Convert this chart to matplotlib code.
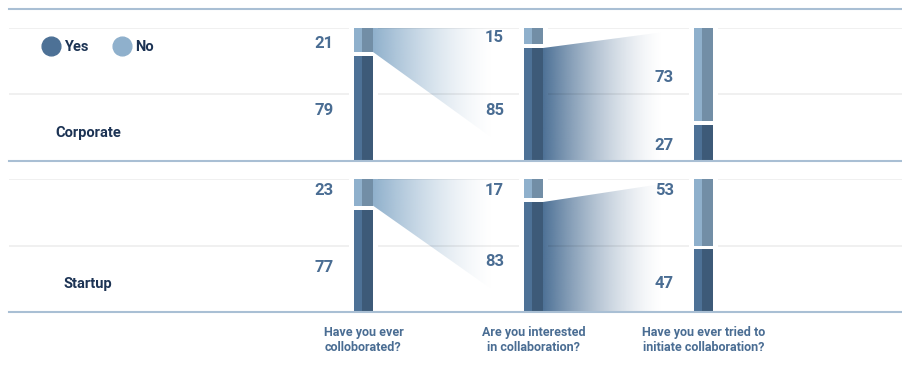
import numpy as np
import matplotlib
matplotlib.use('Agg')
import matplotlib.pyplot as plt
from matplotlib.patches import Polygon
from matplotlib.lines import Line2D

plt.rcParams['font.family'] = ['Roboto', 'DejaVu Sans']

# data
questions = ['Have you ever\ncolloborated?',
             'Are you interested\nin collaboration?',
             'Have you ever tried to\ninitiate collaboration?']
groups = ['Corporate', 'Startup']
corporate_yes = [79, 85, 27]
corporate_no = [21, 15, 73]
startup_yes = [77, 83, 47]
startup_no = [23, 17, 53]

# where the value labels sit (in % of bar height)
corporate_yes_lab = [37.6, 37.6, 12]
corporate_no_lab = [88, 92.5, 63]
startup_yes_lab = [33.8, 38.3, 21.8]
startup_no_lab = [91.7, 91.7, 91.7]

YES_L = '#4d7196'
YES_D = '#3d5a78'
NO_L = '#8fb0cc'
NO_D = '#728ea6'
LABEL = '#4a6d93'
NAVY = '#1c3354'
RULE = '#a9bfd4'
GRID = (0, 0, 0, 0.065)

XMIN, XMAX = -2.085, 3.174
W = 19 / 170.0       # bar width
WL = 8 / 170.0       # lighter left half
PAD = 5 / 170.0      # white space round the bars
GAP = 3.0            # gap between yes and no


def gradient(ax, x0, x1, verts, rgb):
    t = np.linspace(0, 1, 300)
    img = np.zeros((1, 300, 4))
    img[..., :3] = np.array(matplotlib.colors.to_rgb(rgb))
    img[..., 3] = np.clip(1 - t / 0.8, 0, 1) ** 1.5
    im = ax.imshow(img, extent=(x0, x1, 0, 100), aspect='auto',
                   interpolation='bilinear', zorder=1)
    poly = Polygon(verts, closed=True, transform=ax.transData)
    im.set_clip_path(poly)


def panel(ax, name, yes, no, yes_lab, no_lab):
    x = np.arange(len(yes))
    left = x - W / 2
    right = x + W / 2

    # grid lines, broken round the bars
    starts = [XMIN] + list(right + PAD)
    ends = list(left - PAD) + [XMAX]
    for y in [50, 100]:
        ax.hlines([y] * len(starts), starts, ends, color=GRID, lw=1.3, zorder=2)

    # flows between the bars
    gradient(ax, right[0], left[1],
             [(right[0], 100), (right[0], yes[0] + GAP), (left[1], 0), (left[1], 100)],
             NO_L)
    gradient(ax, right[1], left[2],
             [(right[1], yes[1]), (right[1], 0), (left[2], 0), (left[2], 100)],
             YES_L)

    yes = np.array(yes)
    no = np.array(no)
    ax.bar(left, yes, width=WL, align='edge', color=YES_L, zorder=4)
    ax.bar(left + WL, yes, width=W - WL, align='edge', color=YES_D, zorder=4)
    ax.bar(left, no - GAP, bottom=yes + GAP, width=WL, align='edge', color=NO_L, zorder=4)
    ax.bar(left + WL, no - GAP, bottom=yes + GAP, width=W - WL, align='edge', color=NO_D, zorder=4)

    for i in range(len(yes)):
        ax.annotate(str(yes[i]), xy=(left[i], yes_lab[i]), xytext=(-20, 0),
                    textcoords='offset pixels', ha='right', va='center',
                    fontsize=12, fontweight='bold', color=LABEL)
        ax.annotate(str(no[i]), xy=(left[i], no_lab[i]), xytext=(-20, 0),
                    textcoords='offset pixels', ha='right', va='center',
                    fontsize=12, fontweight='bold', color=LABEL)

    ax.text(-1.62, 21, name, ha='center', va='center', fontsize=10.5,
            fontweight='bold', color=NAVY)
    ax.axhline(0, color=RULE, lw=1.5, zorder=6, clip_on=False)

    ax.set_xlim(XMIN, XMAX)
    ax.set_ylim(0, 100)
    for s in ax.spines.values():
        s.set_visible(False)
    ax.set_yticks([])


fig = plt.figure(figsize=(9.03, 3.81), dpi=100)
ax_c = fig.add_axes([9 / 903, (381 - 161) / 381, 894 / 903, 133 / 381])
ax_s = fig.add_axes([9 / 903, (381 - 312) / 381, 894 / 903, 133 / 381])

panel(ax_c, groups[0], corporate_yes, corporate_no, corporate_yes_lab, corporate_no_lab)
panel(ax_s, groups[1], startup_yes, startup_no, startup_yes_lab, startup_no_lab)

ax_c.set_xticks([])
ax_s.set_xticks(np.arange(len(questions)), questions)
ax_s.tick_params(axis='x', length=0, pad=10, labelsize=9, labelcolor=LABEL)
for lab in ax_s.get_xticklabels():
    lab.set_fontweight('bold')
    lab.set_linespacing(1.25)

fig.add_artist(Line2D([9 / 903, 1], [1 - 9 / 381, 1 - 9 / 381], color=RULE, lw=1.5))

handles = [Line2D([], [], ls='', marker='o', markersize=13.5, color=YES_L),
           Line2D([], [], ls='', marker='o', markersize=13.5, color=NO_L)]
leg = ax_c.legend(handles, ['Yes', 'No'], loc='center left', ncol=2,
                  bbox_to_anchor=(44 / 903, 1 - 47 / 381), bbox_transform=fig.transFigure,
                  frameon=False, borderpad=0, borderaxespad=0, handlelength=1.0,
                  handletextpad=0.4, columnspacing=1.8,
                  prop={'size': 10.5, 'weight': 'bold'})
for t in leg.get_texts():
    t.set_color(NAVY)

fig.savefig('out.png', dpi=100)
